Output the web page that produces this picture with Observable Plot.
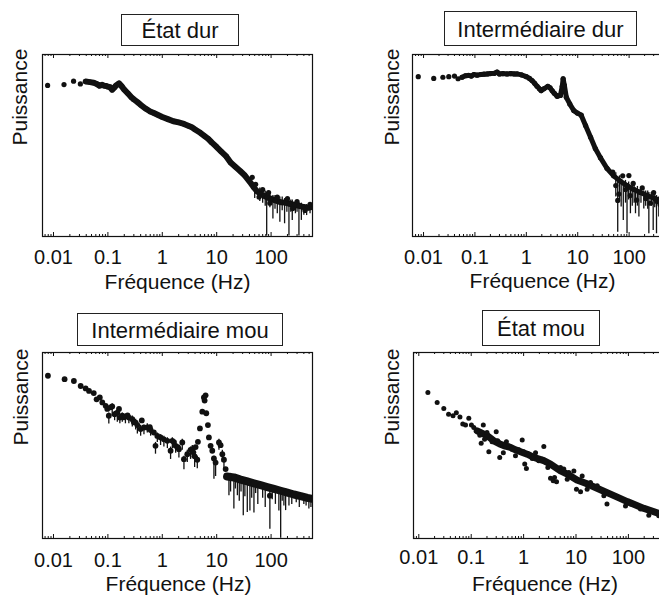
<!DOCTYPE html>
<html><head><meta charset="utf-8">
<script src="https://cdn.jsdelivr.net/npm/d3@7"></script>
<script src="https://cdn.jsdelivr.net/npm/@observablehq/plot@0.6"></script>
<style>
html,body{margin:0;padding:0;background:#fff;}
#chart{position:relative;width:659px;height:596px;overflow:hidden;background:#fff;font-family:"Liberation Sans",Arial,Helvetica,sans-serif;}
.panel{position:absolute;}
.title{position:absolute;box-sizing:border-box;border:1px solid #222;background:#fff;font-size:22px;display:flex;align-items:center;justify-content:center;color:#111;padding-top:2px;white-space:nowrap;}
</style></head><body><div id="chart"></div><script>
// ---- text ----
const titles = ["État dur", "Intermédiaire dur", "Intermédiaire mou", "État mou"];
const xLabel = "Fréquence (Hz)";
const yLabel = "Puissance";
const xTickValues = [0.01, 0.1, 1, 10, 100];
const xTickLabels = ["0.01", "0.1", "1", "10", "100"];

// ---- data: [frequency Hz, log10 power (arbitrary units)]; bars: [frequency, low, high] ----
// Panel 1 : État dur
const hardSpectrum = [[0.0078,4.98],[0.0156,5.01],[0.0234,5.12],[0.0312,5.03],[0.039,5.11],[0.047,5.09],[0.055,5.07],[0.0625,5.03],[0.07,4.97],[0.078,5.00],[0.086,4.97],[0.094,4.96],[0.10,4.94],[0.11,4.92],[0.12,4.84],[0.13,4.90],[0.14,4.97],[0.16,5.05],[0.18,4.95],[0.20,4.84],[0.23,4.73],[0.27,4.59],[0.30,4.52],[0.35,4.43],[0.40,4.34],[0.5,4.21],[0.6,4.12],[0.7,4.07],[0.8,4.02],[1.0,3.94],[1.3,3.86],[1.6,3.80],[2.0,3.76],[2.5,3.71],[3.0,3.65],[3.5,3.60],[4.0,3.53],[5.0,3.42],[6.0,3.31],[7.0,3.22],[8.0,3.11],[10,2.95],[12,2.81],[15,2.64],[18,2.44],[22,2.30],[27,2.16],[33,2.01],[40,1.82],[48,1.62],[56,1.48],[65,1.40],[75,1.34],[85,1.29],[100,1.24],[120,1.19],[150,1.13],[180,1.12],[220,1.08],[270,1.04],[330,1.01],[400,0.97],[480,0.95],[560,0.97]];
const hardScatter = [[45,1.95],[52,1.72],[60,1.30],[70,1.55],[90,1.45],[95,1.10],[130,1.30],[200,1.25],[250,0.92],[300,1.15],[420,0.86],[520,1.06]];
const hardBars = [[50,1.25,1.75],[62,1.15,1.6],[70,1.1,1.55],[78,1.0,1.5],[83,0.02,1.45],[95,0.95,1.45],[108,0.58,1.35],[118,0.9,1.35],[130,0.75,1.3],[145,0.47,1.3],[160,0.85,1.3],[177,0.42,1.25],[195,0.8,1.25],[213,0.02,1.2],[230,0.8,1.2],[245,0.53,1.2],[280,0.75,1.15],[300,0.8,1.15],[325,0.02,1.12],[360,0.53,1.1],[400,0.7,1.05],[450,0.69,1.05],[520,0.75,1.05]];

// Panel 2 : Intermédiaire dur
const hardIntSpectrum = [[0.0079,5.27],[0.0158,5.21],[0.0238,5.25],[0.031,5.27],[0.040,5.29],[0.047,5.20],[0.056,5.25],[0.065,5.30],[0.075,5.31],[0.085,5.29],[0.095,5.34],[0.11,5.32],[0.13,5.34],[0.15,5.35],[0.175,5.36],[0.2,5.37],[0.24,5.38],[0.27,5.42],[0.3,5.36],[0.35,5.37],[0.42,5.36],[0.5,5.37],[0.58,5.36],[0.66,5.36],[0.8,5.33],[1.0,5.27],[1.15,5.21],[1.29,5.14],[1.45,5.05],[1.62,4.95],[1.8,4.87],[1.94,4.81],[2.19,4.87],[2.62,4.95],[2.9,4.90],[3.17,4.81],[3.5,4.72],[3.98,4.62],[4.6,4.65],[5.0,4.95],[5.2,5.20],[5.5,4.98],[6.0,4.59],[7.0,4.37],[8.4,4.15],[9.8,4.07],[11.7,4.0],[14.2,3.66],[17.8,3.27],[22,2.90],[27.6,2.60],[37,2.25],[50,2.0],[68,1.82],[91,1.68],[123,1.55],[165,1.45],[224,1.35],[325,1.24],[500,1.17]];
const hardIntScatter = [[48,2.12],[55,1.68],[60,1.19],[63,1.40],[75,2.0],[85,1.55],[99,2.01],[105,1.35],[120,1.75],[140,1.2],[180,1.6],[210,1.25],[260,1.1],[300,1.45],[350,1.15],[400,1.05],[460,1.3]];
const hardIntBars = [[55,1.3,2.1],[60,0.14,1.9],[65,1.2,2.0],[70,0.97,1.85],[77,0.53,1.8],[85,1.1,1.85],[91,0.09,1.75],[98,1.2,1.8],[106,0.75,1.65],[115,1.0,1.7],[125,1.1,1.7],[133,0.75,1.6],[145,1.0,1.65],[155,0.64,1.55],[170,1.1,1.6],[193,0.91,1.5],[210,1.0,1.5],[230,0.9,1.5],[242,0.09,1.45],[270,1.0,1.45],[294,0.20,1.4],[315,0.95,1.4],[341,0.09,1.35],[378,0.64,1.3],[420,0.95,1.35],[450,0.8,1.3],[490,0.9,1.3]];

// Panel 3 : Intermédiaire mou
const softIntSpectrum = [[15.5,2.0],[20.7,1.97],[27.5,1.90],[36.5,1.84],[48,1.78],[64,1.72],[85,1.66],[113,1.60],[150,1.54],[199,1.48],[263,1.42],[350,1.37],[465,1.31],[570,1.28]];
const softIntScatter = [[0.0079,5.25],[0.016,5.14],[0.0237,5.08],[0.0316,4.92],[0.039,4.84],[0.045,4.76],[0.055,4.69],[0.062,4.49],[0.071,4.55],[0.079,4.39],[0.091,4.28],[0.0975,4.18],[0.104,3.96],[0.112,4.23],[0.12,4.26],[0.133,4.01],[0.149,4.06],[0.16,4.18],[0.166,3.90],[0.184,3.96],[0.197,3.91],[0.212,3.94],[0.23,3.97],[0.243,3.90],[0.281,3.85],[0.30,3.75],[0.324,3.74],[0.348,3.66],[0.40,3.53],[0.42,3.81],[0.46,3.58],[0.53,3.58],[0.59,3.59],[0.61,3.50],[0.70,3.42],[0.75,2.99],[0.81,3.31],[0.93,3.26],[1.07,3.20],[1.24,3.15],[1.42,2.83],[1.53,3.15],[1.64,3.11],[1.76,2.99],[1.94,2.95],[2.02,2.88],[2.33,3.10],[2.50,2.56],[2.88,2.72],[3.31,2.86],[3.56,2.88],[3.72,2.78],[3.93,2.65],[4.1,2.95],[4.40,2.54],[4.52,3.12],[4.92,3.55],[5.44,4.09],[5.82,4.55],[6.0,4.45],[6.25,4.62],[6.44,4.04],[6.90,3.66],[7.19,3.26],[7.73,2.99],[8.30,2.83],[8.89,2.58],[9.55,2.45],[11.0,3.10],[11.8,3.01],[12.7,2.72],[13.6,2.54],[14.6,2.24],[95,1.38]];
const softIntBars = [[0.104,3.69,4.05],[0.12,3.95,4.35],[0.133,3.8,4.1],[0.149,3.75,4.15],[0.166,3.7,4.0],[0.184,3.75,4.05],[0.21,3.70,4.0],[0.243,3.7,4.0],[0.281,3.6,3.95],[0.324,3.5,3.85],[0.348,3.37,3.75],[0.40,3.3,3.65],[0.46,3.35,3.65],[0.53,3.4,3.7],[0.61,3.3,3.65],[0.75,2.72,3.1],[0.81,3.1,3.4],[0.93,3.0,3.35],[1.07,2.95,3.3],[1.24,2.9,3.25],[1.42,2.55,2.95],[1.53,2.9,3.25],[1.76,2.75,3.05],[2.02,2.6,3.0],[2.33,2.85,3.2],[2.5,2.22,2.65],[2.88,2.45,2.85],[3.31,2.55,2.95],[3.56,2.6,3.0],[3.93,2.29,2.75],[4.40,2.25,2.65],[8.9,1.91,2.65],[9.55,2.0,2.55],[11.0,2.85,3.2],[12.7,2.45,2.85],[13.6,2.2,2.6],[16.8,1.38,2.1],[18,1.5,2.1],[20.7,0.95,2.0],[22,1.6,2.05],[24,1.38,1.95],[26,1.2,2.0],[28,1.5,1.95],[30.8,0.73,1.9],[33,1.35,1.9],[36.5,0.84,1.85],[40.8,0.89,1.8],[44,1.3,1.85],[48.4,0.82,1.8],[52,1.45,1.8],[57,1.1,1.8],[70,1.3,1.75],[78,1.0,1.75],[95,0.30,1.65],[105,1.25,1.7],[120,1.1,1.65],[139,0.89,1.55],[150,0.01,1.55],[160,1.2,1.6],[172,1.05,1.5],[185,0.9,1.6],[213,1.05,1.5],[240,1.1,1.5],[290,1.15,1.5],[330,1.0,1.45],[400,1.1,1.4],[440,1.05,1.4],[495,0.95,1.3],[540,1.0,1.35]];

// Panel 4 : État mou
const softSpectrum = [[0.13,3.47],[0.2,3.32],[0.27,3.15],[0.35,3.05],[0.45,2.98],[0.56,2.94],[0.7,2.86],[0.9,2.79],[1.17,2.72],[1.5,2.63],[1.9,2.57],[2.43,2.51],[3.26,2.40],[5.06,2.18],[7.3,2.05],[10.4,1.89],[15.3,1.78],[21.7,1.67],[31.5,1.55],[45.6,1.43],[66,1.31],[95,1.19],[137,1.08],[198,0.97],[380,0.81],[560,0.72]];
const softScatter = [[0.0149,4.71],[0.0224,4.39],[0.030,4.19],[0.037,4.01],[0.045,3.96],[0.052,4.06],[0.061,3.92],[0.069,3.69],[0.078,3.66],[0.090,3.88],[0.101,3.66],[0.112,3.58],[0.146,3.33],[0.155,3.07],[0.17,3.66],[0.18,3.20],[0.20,3.42],[0.217,2.80],[0.25,3.12],[0.30,3.44],[0.32,3.15],[0.35,2.61],[0.41,2.77],[0.47,3.12],[0.52,2.99],[0.60,2.88],[0.70,2.67],[0.81,2.86],[0.94,3.18],[1.0,2.80],[1.05,2.40],[1.13,2.26],[1.26,2.72],[1.46,2.58],[1.69,2.77],[1.95,2.51],[2.26,2.56],[2.43,2.97],[2.62,2.47],[2.90,2.29],[3.26,1.94],[3.67,1.86],[3.89,1.97],[4.25,1.83],[4.38,2.24],[5.06,2.29],[5.85,2.24],[6.8,1.91],[7.3,2.13],[9.1,2.18],[10.2,1.59],[12.2,1.51],[13.1,2.02],[16.3,1.59],[18.9,1.81],[25.4,1.70],[34,1.38],[39,1.11],[45.6,1.43],[61,1.32],[88,1.05],[110,1.11],[170,0.95],[245,0.75],[380,0.73]];
const softBars = [];

// ---- rendering ----
const pts = a => a.map(([f, e]) => ({f, p: 10 ** e}));
const bars = a => a.map(([f, lo, hi]) => ({f, lo: 10 ** lo, hi: 10 ** hi}));

const panels = [
  {spec: hardSpectrum, scat: hardScatter, bars: hardBars, lineFrom: 0.035, lineW: 6, r: 2.6,
   left: 0, top: 0, width: 330, height: 300, mL: 42, mR: 18, mT: 54, mB: 64, xDomain: [0.00628, 577], tickDy: 27, labelDy: 52, labelDx: 0, yDx: -22.5,
   box: {left: 121, top: 14, width: 118, height: 32}},
  {spec: hardIntSpectrum, scat: hardIntScatter, bars: hardIntBars, lineFrom: 0.05, lineW: 5, r: 2.6,
   left: 330, top: 0, width: 340, height: 300, mL: 82, mR: 3, mT: 54, mB: 64, xDomain: [0.0061, 558], tickDy: 27, labelDy: 51, labelDx: 2.5, yDx: -20,
   box: {left: 444, top: 11, width: 193, height: 35}},
  {spec: softIntSpectrum, scat: softIntScatter, bars: softIntBars, lineFrom: 0, lineW: 8, r: 2.9,
   left: 0, top: 300, width: 330, height: 300, mL: 42, mR: 18, mT: 52, mB: 62, xDomain: [0.00628, 577], tickDy: 28, labelDy: 52, labelDx: 1, yDx: -21,
   box: {left: 77, top: 313, width: 206, height: 33}},
  {spec: softSpectrum, scat: softScatter, bars: softBars, lineFrom: 0, lineW: 7, r: 2.5,
   left: 330, top: 300, width: 340, height: 300, mL: 83, mR: 2, mT: 52, mB: 62, xDomain: [0.00792, 582], tickDy: 25, labelDy: 52, labelDx: 4, yDx: -21,
   box: {left: 482, top: 310, width: 118, height: 36}}
];

const chart = document.getElementById("chart");
const font = '"Liberation Sans", Arial, Helvetica, sans-serif';

panels.forEach((c, i) => {
  const H = c.height - c.mT - c.mB;
  const minor = [];
  for (let k = -3; k <= 3; k++) for (let m = 2; m <= 9; m++) {
    const v = m * 10 ** k;
    if (v > c.xDomain[0] && v < c.xDomain[1]) minor.push(v);
  }
  const major = xTickValues.filter(v => v > c.xDomain[0] && v < c.xDomain[1]);
  const tickRows = xTickValues.map((v, j) => ({v, label: xTickLabels[j]}));
  const spec = pts(c.spec);
  const svg = Plot.plot({
    width: c.width, height: c.height,
    marginLeft: c.mL, marginRight: c.mR, marginTop: c.mT, marginBottom: c.mB,
    x: {type: "log", domain: c.xDomain, axis: null},
    y: {type: "log", domain: [1, 1e6], axis: null},
    style: {fontFamily: font, background: "transparent", color: "black", overflow: "visible"},
    marks: [
      Plot.ruleX(bars(c.bars), {x: "f", y1: "lo", y2: "hi", stroke: "#111", strokeWidth: 1.3, clip: true}),
      Plot.line(spec.filter(d => d.f >= c.lineFrom), {x: "f", y: "p", stroke: "#111", strokeWidth: c.lineW, clip: true}),
      Plot.dot(spec, {x: "f", y: "p", r: c.r, fill: "#111", clip: true}),
      Plot.dot(pts(c.scat), {x: "f", y: "p", r: c.r, fill: "#111", clip: true}),
      Plot.ruleX(minor, {x: d => d, insetTop: H - 2, stroke: "#111"}),
      Plot.ruleX(minor, {x: d => d, insetBottom: H - 2, stroke: "#111"}),
      Plot.ruleX(major, {x: d => d, insetTop: H - 4, stroke: "#111"}),
      Plot.ruleX(major, {x: d => d, insetBottom: H - 4, stroke: "#111"}),
      Plot.frame({stroke: "#111", strokeWidth: 1.2}),
      Plot.text(tickRows, {x: "v", text: "label", frameAnchor: "bottom", lineAnchor: "bottom", dy: c.tickDy, fontSize: 20, fill: "#111"}),
      Plot.text([xLabel], {text: d => d, frameAnchor: "bottom", lineAnchor: "bottom", dy: c.labelDy, dx: c.labelDx, fontSize: 21, fill: "#111"}),
      Plot.text([yLabel], {text: d => d, frameAnchor: "left", rotate: -90, dx: c.yDx, fontSize: 21, fill: "#111"})
    ]
  });
  svg.classList.add("panel");
  svg.style.left = c.left + "px";
  svg.style.top = c.top + "px";
  chart.appendChild(svg);

  const t = document.createElement("div");
  t.className = "title";
  t.textContent = titles[i];
  Object.assign(t.style, {left: c.box.left + "px", top: c.box.top + "px", width: c.box.width + "px", height: c.box.height + "px"});
  chart.appendChild(t);
});
</script></body></html>
